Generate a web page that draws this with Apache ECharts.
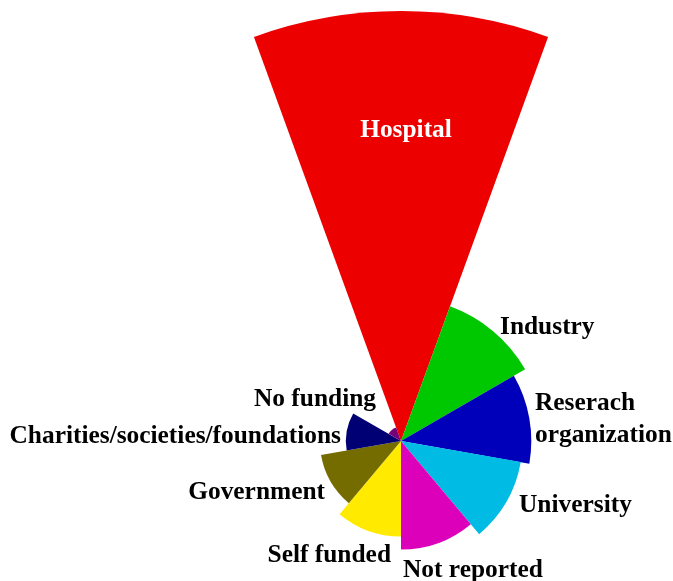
<!DOCTYPE html>
<html>
<head>
<meta charset="utf-8">
<script src="https://cdn.jsdelivr.net/npm/echarts@6/dist/echarts.min.js"></script>
<style>html,body{margin:0;padding:0;background:#fff}#c{width:673px;height:581px}</style>
</head>
<body>
<div id="c"></div>
<script>
const categories = ['Hospital','Industry','Reserach\norganization','University','Not reported','Self funded','Government','Charities/societies/foundations','No funding'];
const values = [99, 33, 30, 28, 25, 22, 18.7, 12.7, 3.3];
const colors = ['#ec0000','#00c800','#0000bb','#00bbe3','#dd00bb','#ffea00','#756c00','#000074','#760078'];
// label anchor placement: [x, y, align]
const labelPlace = [
  [406, 130, 'center'],
  [500, 327, 'left'],
  [535, 419, 'left'],
  [519, 505, 'left'],
  [403, 570, 'left'],
  [391, 555, 'right'],
  [325, 492, 'right'],
  [341, 436, 'right'],
  [376, 399, 'right']
];

const chart = echarts.init(document.getElementById('c'), null, {renderer: 'canvas'});
chart.setOption({
  animation: false,
  series: [{
    type: 'pie',
    roseType: 'area',
    center: [401, 441],
    radius: [0, 430],
    startAngle: 110,
    clockwise: true,
    avoidLabelOverlap: false,
    label: {
      show: true,
      position: 'outside',
      color: '#000',
      fontFamily: 'Liberation Serif',
      fontWeight: 'bold',
      fontSize: 25.4,
      lineHeight: 32
    },
    labelLine: {show: false},
    labelLayout: function (p) {
      const lp = labelPlace[p.dataIndex];
      return {x: lp[0], y: lp[1], align: lp[2], verticalAlign: 'middle'};
    },
    itemStyle: {borderWidth: 0},
    emphasis: {disabled: true},
    data: categories.map((c, i) => ({
      name: c,
      value: values[i],
      itemStyle: {color: colors[i]},
      label: i === 0 ? {color: '#fff', position: 'inside'} : undefined
    }))
  }]
});
</script>
</body>
</html>
